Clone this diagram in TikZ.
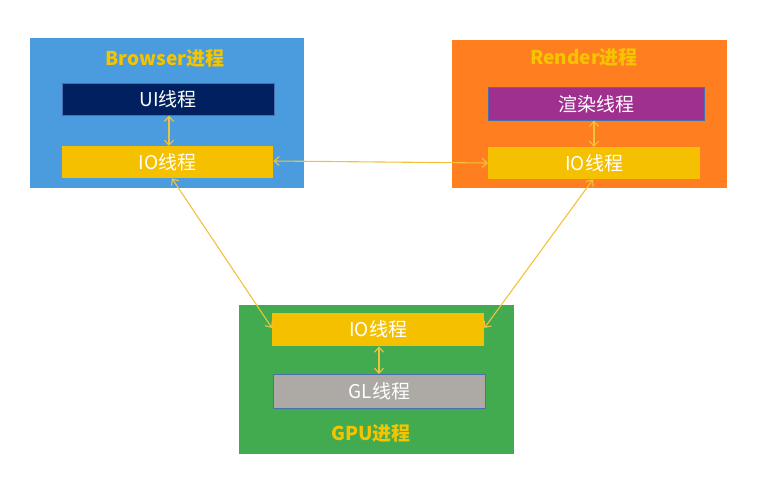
\documentclass[tikz,border=0pt]{standalone}
\usepackage{fontspec}
\setmainfont{Noto Sans CJK SC}
\usetikzlibrary{arrows.meta}
\definecolor{bblue}{HTML}{4A9CDE}
\definecolor{rorange}{HTML}{FF7E20}
\definecolor{ggreen}{HTML}{43AB4F}
\definecolor{gold}{HTML}{F4C000}
\definecolor{navy}{HTML}{002060}
\definecolor{purp}{HTML}{A0308F}
\definecolor{gry}{HTML}{ADA9A4}
\definecolor{edgeblue}{HTML}{4A6FB0}
\definecolor{arr}{HTML}{F2C33A}
\definecolor{ttl}{HTML}{F5C400}
\begin{document}
\begin{tikzpicture}[x=1pt,y=-1pt,
  proc/.style={draw=none,anchor=north west,inner sep=0pt},
  thr/.style={anchor=north west,inner sep=0pt},
  lab/.style={text=white,font=\fontsize{19}{19}\selectfont},
  title/.style={text=ttl,font=\bfseries\fontsize{19}{19}\selectfont},
  link/.style={draw=arr,line width=1.1pt,{Straight Barb[length=5pt,width=9pt]}-{Straight Barb[length=5pt,width=9pt]}}]
\useasboundingbox[fill=white] (0,0) rectangle (765,496);
% process boxes
\node[proc,fill=bblue,minimum width=274pt,minimum height=150pt] (browser) at (30,38) {};
\node[proc,fill=rorange,minimum width=275pt,minimum height=148pt] (render) at (452,40) {};
\node[proc,fill=ggreen,minimum width=275pt,minimum height=149pt] (gpu) at (239,305) {};
% titles
\node[title] (tb) at (165,58) {Browser进程};
\node[title] (tr) at (584,57) {Render进程};
\node[title] (tg) at (371,433) {GPU进程};
% thread boxes
\node[thr,fill=navy,draw=edgeblue,line width=0.6pt,minimum width=212pt,minimum height=32pt] (ui) at (62,83) {};
\node[lab] (uit) at (ui.center) {UI线程};
\node[thr,fill=gold,minimum width=211pt,minimum height=32pt] (bio) at (62,146) {};
\node[lab] (biot) at (bio.center) {IO线程};
\node[thr,fill=purp,draw=edgeblue,line width=0.6pt,minimum width=216pt,minimum height=33pt] (xr) at (488,87) {};
\node[lab] (xrt) at (xr.center) {渲染线程};
\node[thr,fill=gold,minimum width=212pt,minimum height=32pt] (rio) at (488,147) {};
\node[lab] (riot) at (rio.center) {IO线程};
\node[thr,fill=gold,minimum width=212pt,minimum height=33pt] (gio) at (272,313) {};
\node[lab] (giot) at (gio.center) {IO线程};
\node[thr,fill=gry,draw=edgeblue,line width=0.6pt,minimum width=212pt,minimum height=34pt] (gl) at (273,374) {};
\node[lab] (glt) at (gl.center) {GL线程};
% connectors
\draw[link] (ui.south -| 169,0) -- (bio.north -| 169,0);
\draw[link] (xr.south -| 594,0) -- (rio.north -| 594,0);
\draw[link] (gio.south -| 379,0) -- (gl.north -| 379,0);
\draw[link] (bio.east |- 0,161) -- (rio.west |- 0,163);
\draw[link] (bio.south -| 172,0) -- (gio.west |- 0,328);
\draw[link] (rio.south -| 593,0) -- (gio.east |- 0,328);
\end{tikzpicture}
\end{document}
